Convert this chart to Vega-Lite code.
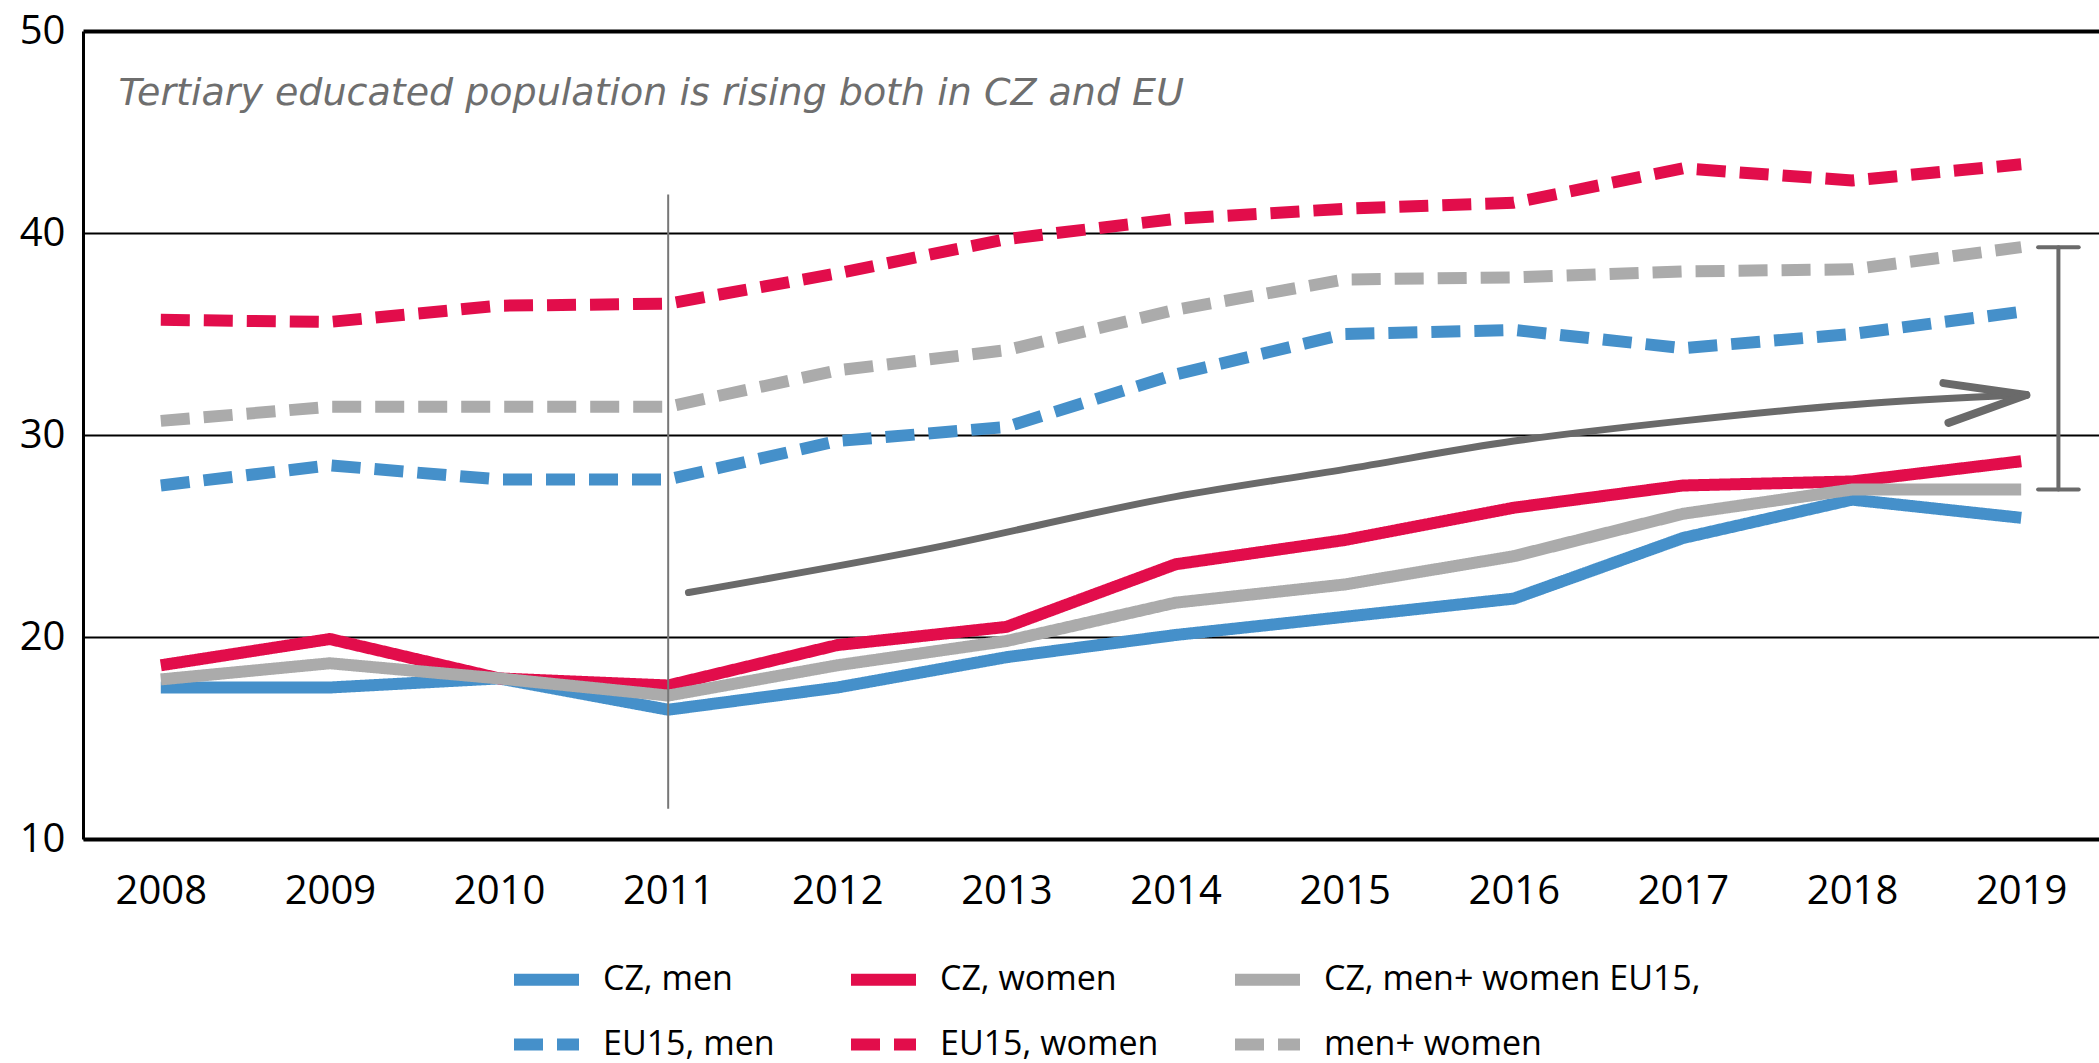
{
  "$schema": "https://vega.github.io/schema/vega-lite/v6.json",
  "width": 2016,
  "height": 808,
  "autosize": "none",
  "padding": {"left": 83, "top": 31, "right": 0, "bottom": 224},
  "background": "white",
  "config": {"view": {"stroke": null}, "font": "Open Sans"},
  "datasets": {
    "series": [
      {"series": "CZ, men", "year": 2008, "value": 17.5},
      {"series": "CZ, men", "year": 2009, "value": 17.5},
      {"series": "CZ, men", "year": 2010, "value": 17.95},
      {"series": "CZ, men", "year": 2011, "value": 16.4},
      {"series": "CZ, men", "year": 2012, "value": 17.5},
      {"series": "CZ, men", "year": 2013, "value": 19.0},
      {"series": "CZ, men", "year": 2014, "value": 20.1},
      {"series": "CZ, men", "year": 2015, "value": 21.0},
      {"series": "CZ, men", "year": 2016, "value": 21.9},
      {"series": "CZ, men", "year": 2017, "value": 24.9},
      {"series": "CZ, men", "year": 2018, "value": 26.8},
      {"series": "CZ, men", "year": 2019, "value": 25.9},
      {"series": "CZ, women", "year": 2008, "value": 18.6},
      {"series": "CZ, women", "year": 2009, "value": 19.9},
      {"series": "CZ, women", "year": 2010, "value": 17.95},
      {"series": "CZ, women", "year": 2011, "value": 17.6},
      {"series": "CZ, women", "year": 2012, "value": 19.6},
      {"series": "CZ, women", "year": 2013, "value": 20.5},
      {"series": "CZ, women", "year": 2014, "value": 23.6},
      {"series": "CZ, women", "year": 2015, "value": 24.8},
      {"series": "CZ, women", "year": 2016, "value": 26.4},
      {"series": "CZ, women", "year": 2017, "value": 27.5},
      {"series": "CZ, women", "year": 2018, "value": 27.7},
      {"series": "CZ, women", "year": 2019, "value": 28.7},
      {"series": "CZ, men+women", "year": 2008, "value": 17.9},
      {"series": "CZ, men+women", "year": 2009, "value": 18.7},
      {"series": "CZ, men+women", "year": 2010, "value": 17.95},
      {"series": "CZ, men+women", "year": 2011, "value": 17.1},
      {"series": "CZ, men+women", "year": 2012, "value": 18.6},
      {"series": "CZ, men+women", "year": 2013, "value": 19.8},
      {"series": "CZ, men+women", "year": 2014, "value": 21.7},
      {"series": "CZ, men+women", "year": 2015, "value": 22.6},
      {"series": "CZ, men+women", "year": 2016, "value": 24.0},
      {"series": "CZ, men+women", "year": 2017, "value": 26.1},
      {"series": "CZ, men+women", "year": 2018, "value": 27.3},
      {"series": "CZ, men+women", "year": 2019, "value": 27.3},
      {"series": "EU15, men", "year": 2008, "value": 27.5},
      {"series": "EU15, men", "year": 2009, "value": 28.5},
      {"series": "EU15, men", "year": 2010, "value": 27.8},
      {"series": "EU15, men", "year": 2011, "value": 27.8},
      {"series": "EU15, men", "year": 2012, "value": 29.7},
      {"series": "EU15, men", "year": 2013, "value": 30.4},
      {"series": "EU15, men", "year": 2014, "value": 33.0},
      {"series": "EU15, men", "year": 2015, "value": 35.0},
      {"series": "EU15, men", "year": 2016, "value": 35.2},
      {"series": "EU15, men", "year": 2017, "value": 34.3},
      {"series": "EU15, men", "year": 2018, "value": 35.0},
      {"series": "EU15, men", "year": 2019, "value": 36.1},
      {"series": "EU15, women", "year": 2008, "value": 35.7},
      {"series": "EU15, women", "year": 2009, "value": 35.6},
      {"series": "EU15, women", "year": 2010, "value": 36.4},
      {"series": "EU15, women", "year": 2011, "value": 36.5},
      {"series": "EU15, women", "year": 2012, "value": 38.0},
      {"series": "EU15, women", "year": 2013, "value": 39.7},
      {"series": "EU15, women", "year": 2014, "value": 40.7},
      {"series": "EU15, women", "year": 2015, "value": 41.2},
      {"series": "EU15, women", "year": 2016, "value": 41.5},
      {"series": "EU15, women", "year": 2017, "value": 43.2},
      {"series": "EU15, women", "year": 2018, "value": 42.6},
      {"series": "EU15, women", "year": 2019, "value": 43.4},
      {"series": "EU15, men+women", "year": 2008, "value": 30.7},
      {"series": "EU15, men+women", "year": 2009, "value": 31.4},
      {"series": "EU15, men+women", "year": 2010, "value": 31.4},
      {"series": "EU15, men+women", "year": 2011, "value": 31.4},
      {"series": "EU15, men+women", "year": 2012, "value": 33.2},
      {"series": "EU15, men+women", "year": 2013, "value": 34.2},
      {"series": "EU15, men+women", "year": 2014, "value": 36.2},
      {"series": "EU15, men+women", "year": 2015, "value": 37.7},
      {"series": "EU15, men+women", "year": 2016, "value": 37.8},
      {"series": "EU15, men+women", "year": 2017, "value": 38.1},
      {"series": "EU15, men+women", "year": 2018, "value": 38.2},
      {"series": "EU15, men+women", "year": 2019, "value": 39.3}
    ],
    "arrow": [
      {"year": 2011.12, "value": 22.2},
      {"year": 2012.5, "value": 24.3},
      {"year": 2014, "value": 26.95},
      {"year": 2015, "value": 28.3},
      {"year": 2016, "value": 29.7},
      {"year": 2017, "value": 30.7},
      {"year": 2018, "value": 31.5},
      {"year": 2019.03, "value": 32.0}
    ],
    "segs": [
      {"kind": "divider", "x": 2011, "x2": 2011, "y": 11.5, "y2": 41.9},
      {"kind": "bracket", "x": 2019.22, "x2": 2019.22, "y": 27.3, "y2": 39.3},
      {"kind": "bracket", "x": 2019.10, "x2": 2019.34, "y": 39.3, "y2": 39.3},
      {"kind": "bracket", "x": 2019.10, "x2": 2019.34, "y": 27.3, "y2": 27.3},
      {"kind": "head", "x": 2018.54, "x2": 2019.03, "y": 32.57, "y2": 31.98},
      {"kind": "head", "x": 2018.57, "x2": 2019.03, "y": 30.6, "y2": 31.98}
    ],
    "note": [
      {"year": 2007.75, "value": 46.9, "label": "Tertiary educated population is rising both in CZ and EU"}
    ]
  },
  "layer": [
    {
      "data": {"name": "series"},
      "mark": {"type": "line", "strokeWidth": 12, "strokeCap": "butt", "strokeJoin": "round"},
      "encoding": {
        "x": {
          "field": "year", "type": "quantitative",
          "scale": {"domain": [2007.54, 2019.46], "nice": false, "zero": false},
          "axis": {
            "values": [2008, 2009, 2010, 2011, 2012, 2013, 2014, 2015, 2016, 2017, 2018, 2019],
            "format": "d", "title": null, "grid": false, "ticks": false,
            "domainColor": "black", "domainWidth": 4,
            "labelFontSize": 40, "labelColor": "black", "labelPadding": 32, "labelFlush": false,
            "labelFont": "Open Sans"
          }
        },
        "y": {
          "field": "value", "type": "quantitative",
          "scale": {"domain": [10, 50], "nice": false, "zero": false},
          "axis": {
            "values": [10, 20, 30, 40, 50], "title": null, "ticks": false,
            "grid": true, "gridColor": "black",
            "gridWidth": {"condition": {"test": "datum.value == 50", "value": 4}, "value": 2},
            "domainColor": "black", "domainWidth": 3,
            "labelFontSize": 40, "labelColor": "black", "labelPadding": 18,
            "labelFont": "Open Sans"
          }
        },
        "color": {
          "field": "series", "type": "nominal",
          "scale": {
            "domain": ["CZ, men", "CZ, women", "CZ, men+women", "EU15, men", "EU15, women", "EU15, men+women"],
            "range": ["#4590ca", "#e20d4b", "#ababab", "#4590ca", "#e20d4b", "#ababab"]
          },
          "legend": {
            "title": null, "orient": "none", "legendX": 425, "legendY": 910,
            "direction": "horizontal", "columns": 3, "columnPadding": 52, "rowPadding": 2,
            "symbolType": "stroke", "symbolSize": 4225, "symbolStrokeWidth": 12,
            "labelFontSize": 34, "labelColor": "black", "labelFont": "Open Sans", "labelOffset": 18,
            "labelLimit": 600,
            "labelExpr": "datum.label == 'CZ, men+women' ? 'CZ, men+ women EU15,' : datum.label == 'EU15, men+women' ? 'men+ women' : datum.label"
          }
        },
        "strokeDash": {
          "field": "series", "type": "nominal",
          "scale": {
            "domain": ["CZ, men", "CZ, women", "CZ, men+women", "EU15, men", "EU15, women", "EU15, men+women"],
            "range": [[1, 0], [1, 0], [1, 0], [29, 14], [29, 14], [29, 14]]
          },
          "legend": {
            "title": null, "orient": "none", "legendX": 425, "legendY": 910,
            "direction": "horizontal", "columns": 3, "columnPadding": 52, "rowPadding": 2,
            "symbolType": "stroke", "symbolSize": 4225, "symbolStrokeWidth": 12,
            "labelFontSize": 34, "labelColor": "black", "labelFont": "Open Sans", "labelOffset": 18,
            "labelLimit": 600,
            "labelExpr": "datum.label == 'CZ, men+women' ? 'CZ, men+ women EU15,' : datum.label == 'EU15, men+women' ? 'men+ women' : datum.label"
          }
        }
      }
    },
    {
      "data": {"name": "arrow"},
      "mark": {"type": "line", "color": "#6a6a6a", "strokeWidth": 7, "strokeCap": "round", "interpolate": "monotone"},
      "encoding": {
        "x": {"field": "year", "type": "quantitative"},
        "y": {"field": "value", "type": "quantitative"}
      }
    },
    {
      "data": {"name": "segs"},
      "transform": [{"filter": "datum.kind == 'head'"}],
      "mark": {"type": "rule", "color": "#6a6a6a", "strokeWidth": 8, "strokeCap": "round"},
      "encoding": {
        "x": {"field": "x", "type": "quantitative"},
        "x2": {"field": "x2"},
        "y": {"field": "y", "type": "quantitative"},
        "y2": {"field": "y2"}
      }
    },
    {
      "data": {"name": "segs"},
      "transform": [{"filter": "datum.kind == 'bracket'"}],
      "mark": {"type": "rule", "color": "#6a6a6a", "strokeWidth": 4, "strokeCap": "round"},
      "encoding": {
        "x": {"field": "x", "type": "quantitative"},
        "x2": {"field": "x2"},
        "y": {"field": "y", "type": "quantitative"},
        "y2": {"field": "y2"}
      }
    },
    {
      "data": {"name": "segs"},
      "transform": [{"filter": "datum.kind == 'divider'"}],
      "mark": {"type": "rule", "color": "#777777", "strokeWidth": 2},
      "encoding": {
        "x": {"field": "x", "type": "quantitative"},
        "x2": {"field": "x2"},
        "y": {"field": "y", "type": "quantitative"},
        "y2": {"field": "y2"}
      }
    },
    {
      "data": {"name": "note"},
      "mark": {"type": "text", "align": "left", "baseline": "middle", "font": "DejaVu Sans", "fontStyle": "oblique", "fontSize": 38, "color": "#6e6e6e"},
      "encoding": {
        "x": {"field": "year", "type": "quantitative"},
        "y": {"field": "value", "type": "quantitative"},
        "text": {"field": "label"}
      }
    }
  ]
}
